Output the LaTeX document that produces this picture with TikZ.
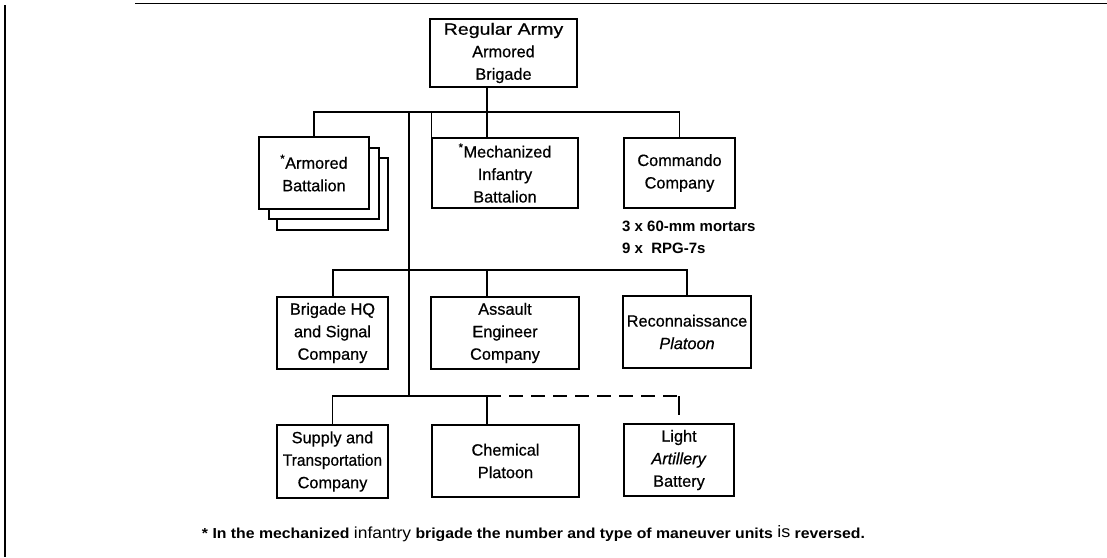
\documentclass[tikz,border=0pt]{standalone}
\usepackage{fontspec}
\setmainfont{Liberation Sans}
\newfontfamily\boxfont{Liberation Sans}[FakeBold=0.6]
\usetikzlibrary{calc}
\begin{document}
\begin{tikzpicture}[x=1pt,y=-1pt,
  unit/.style={draw, line width=1.2pt, fill=white, inner sep=0pt, align=center,
    font=\boxfont\fontsize{16.3}{22.5}\selectfont},
  link/.style={line width=1.3pt},
  trunk/.style={line width=2pt},
  note/.style={anchor=west, inner sep=0pt, font=\bfseries\fontsize{15}{16}\selectfont},
  foot/.style={inner sep=0pt, font=\bfseries\fontsize{14.5}{16}\selectfont}]
\useasboundingbox (0,0) rectangle (1107,557);

% page rules
\draw[line width=1.3pt] (135,3.3) -- (1107,3.3);
\draw[line width=2.6pt] (5,5) -- (5,557);

% headquarters
\node[unit, minimum width=147pt, minimum height=68pt] (top) at (503.5,53)
  {\scalebox{1.2}[1]{Regular Army}\\Armored\\Brigade};

% maneuver units (stacked battalions)
\node[unit, minimum width=111pt, minimum height=72pt] (arm3) at (332.5,194) {};
\node[unit, minimum width=110pt, minimum height=71pt] (arm2) at (324,183.5) {};
\node[unit, minimum width=110pt, minimum height=72pt] (arm) at (314,173)
  {\textsuperscript{*}Armored\\Battalion};
\node[unit, minimum width=146pt, minimum height=70pt] (mech) at (505,173)
  {\textsuperscript{*}Mechanized\\Infantry\\Battalion};
\node[unit, minimum width=111pt, minimum height=70pt] (cmd) at (679.5,173)
  {Commando\\Company};
\node[note] (cmdA) at (622,226) {3 x 60-mm mortars};
\node[note] (cmdB) at (622,248) {9 x\ \ RPG-7s};

% support units
\node[unit, minimum width=111pt, minimum height=72pt] (hq) at (332.5,333)
  {Brigade HQ\\and Signal\\Company};
\node[unit, minimum width=148pt, minimum height=72pt] (eng) at (505,333)
  {Assault\\Engineer\\Company};
\node[unit, minimum width=128pt, minimum height=72pt] (rec) at (687,332)
  {Reconnaissance\\\textit{Platoon}};
\node[unit, minimum width=111pt, minimum height=73pt] (sup) at (332.5,461.5)
  {Supply and\\\scalebox{0.95}[1]{Transportation}\\Company};
\node[unit, minimum width=147pt, minimum height=72pt] (chem) at (505.5,461)
  {Chemical\\Platoon};
\node[unit, minimum width=110pt, minimum height=72pt] (art) at (679,460)
  {Light\\\textit{Artillery}\\Battery};

% footnote
\node[foot] (fn) at (533.5,534)
  {\scalebox{1.09}[1]{* In the mechanized {\mdseries\fontsize{16}{16}\selectfont infantry} brigade the number and type of maneuver units {\mdseries\fontsize{16.5}{16}\selectfont\raisebox{1pt}{is}} reversed.}};

% connector levels
\coordinate (bus1) at (0,112);
\coordinate (bus2) at (0,270);
\coordinate (bus3) at (0,396);
\coordinate (spine) at (409,0);
\coordinate (col) at (487,0);

% connectors
\draw[link] (arm.north) -- (arm.north |- bus1) -| (cmd.north);
\draw[link] (top.south -| col) -- (mech.north -| col);
\draw[link] (mech.north west |- bus1) -- (mech.north west);
\draw[trunk] (spine |- bus1) -- (spine |- bus3);
\draw[trunk] (hq.north) -- (hq.north |- bus2) -| (rec.north);
\draw[link] (col |- bus2) -- (eng.north -| col);
\draw[link] (sup.north) -- (sup.north |- bus3) -- (col |- bus3) -- (chem.north -| col);
\draw[link, dash pattern=on 14pt off 8pt] (col |- bus3) -- (art.north |- bus3);
\draw[link] (art.north |- bus3) -- ($(art.north)+(0,-8)$);
\end{tikzpicture}
\end{document}
